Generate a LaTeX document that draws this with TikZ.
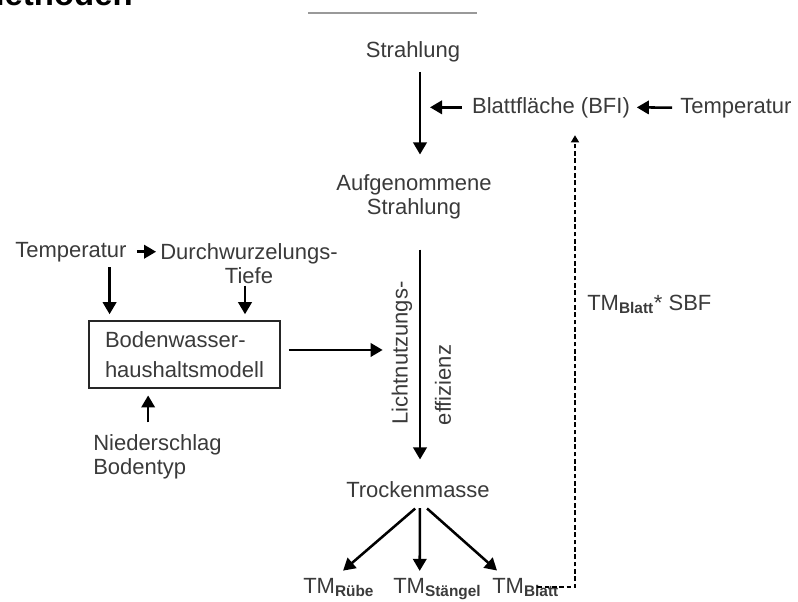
\documentclass[tikz,border=0pt]{standalone}
\usepackage{fontspec}
\setmainfont{Liberation Sans}
\usetikzlibrary{arrows.meta}
\definecolor{ink}{HTML}{3A3A3A}
\newcommand{\TMsub}[1]{TM\textsubscript{\bfseries #1}}
\tikzset{lbl/.style={inner sep=0pt,text=ink,font=\fontsize{16.5}{18}\selectfont},model/.style={lbl,draw=black!85,line width=1.4pt,minimum width=143pt,minimum height=50pt,align=left},flow/.style={-{Triangle[length=9pt,width=10pt]},line width=1.9pt},feed/.style={-{Triangle[length=5.5pt,width=6pt]},line width=1.4pt,dash pattern=on 3.5pt off 2pt}}

\begin{document}
\begin{tikzpicture}[x=0.75pt,y=-0.75pt]
\useasboundingbox (0,0) rectangle (798,601);
\node[font=\fontsize{24.7}{26}\bfseries\selectfont,inner sep=0pt,anchor=base east] (title) at (133,5) {Methoden};
\draw[black!40,line width=0.9pt] (308,13) -- (477,13);
\coordinate (axis) at (420,0);
% main column
\node[lbl,anchor=base] (strahl) at (413,57) {Strahlung};
\node[lbl,align=center] (aufg) at (414,197) {Aufgenommene\\Strahlung};
\node[lbl,anchor=base] (trock) at (418,497) {Trockenmasse};
\node[lbl,anchor=base] (bfi) at (551,113) {Blattfläche (BFI)};
\node[lbl,anchor=base west] (tempR) at (680,113) {Temperatur};
\draw[flow,shorten <=7.5pt,shorten >=15pt] (strahl.south -| axis) -- (aufg.north -| axis);
\draw[flow,shorten <=7.5pt,shorten >=7.5pt] (bfi.west) -- (bfi.west -| axis);
\draw[flow,shorten <=6pt,shorten >=5pt] (tempR.west) -- (bfi.east);
\draw[flow,shorten <=22.5pt,shorten >=16pt] (aufg.south -| axis) -- (trock.north -| axis);
\node[lbl,rotate=90] (lichtL) at (402,353) {Lichtnutzungs-};
\node[lbl,rotate=90] (lichtR) at (443,385) {effizienz};
% soil water model
\node[lbl,anchor=base west] (tempL) at (15,257) {Temperatur};
\node[lbl,align=center] (durch) at (249,264) {Durchwurzelungs-\\Tiefe};
\node[model] (model) at (184.5,354.5) {Bodenwasser-\\[4.5pt]haushaltsmodell};
\node[lbl,align=left,anchor=west] (nied) at (93,457) {Niederschlag\\Bodentyp};
\draw[flow,shorten <=7.5pt,shorten >=3pt] (tempL.east) -- (tempL.east -| durch.west);
\draw[flow,shorten <=4pt,shorten >=4.5pt] ([xshift=29pt]tempL.south) -- ([xshift=29pt]tempL.south |- model.north);
\draw[flow,shorten <=1pt,shorten >=4.5pt] ([xshift=-3pt]durch.south) -- ([xshift=-3pt]durch.south |- model.north);
\draw[flow,shorten <=9pt,shorten >=5pt] ([xshift=-7pt]nied.north) -- ([xshift=-7pt]nied.north |- model.south);
\draw[flow,shorten <=6pt,shorten >=28pt] ([yshift=3.4pt]model.east) -- ([yshift=3.4pt]model.east -| axis);
% dry matter split
\node[lbl,anchor=base west] (tmR) at (303,593) {\TMsub{Rübe}};
\node[lbl,anchor=base west] (tmS) at (393,593) {\TMsub{Stängel}};
\node[lbl,anchor=base west] (tmB) at (492,593) {\TMsub{Blatt}};
\draw[flow,shorten <=12.7pt,shorten >=8pt] ([xshift=7.5pt]trock.south) -- ([xshift=24pt]tmR.north west);
\draw[flow,shorten <=8pt,shorten >=5pt] ([xshift=1.5pt]trock.south) -- ([xshift=20pt]tmS.north west);
\draw[flow,shorten <=12.4pt,shorten >=8pt] ([xshift=-2.5pt]trock.south) -- ([xshift=9.75pt]tmB.north west);
\draw[feed,shorten >=13pt] ([xshift=-16.5pt]tmB.east) -| ([xshift=18pt]bfi.south);
\node[lbl,anchor=base west] (sbf) at (587,310) {\TMsub{Blatt}* SBF};
\end{tikzpicture}
\end{document}
